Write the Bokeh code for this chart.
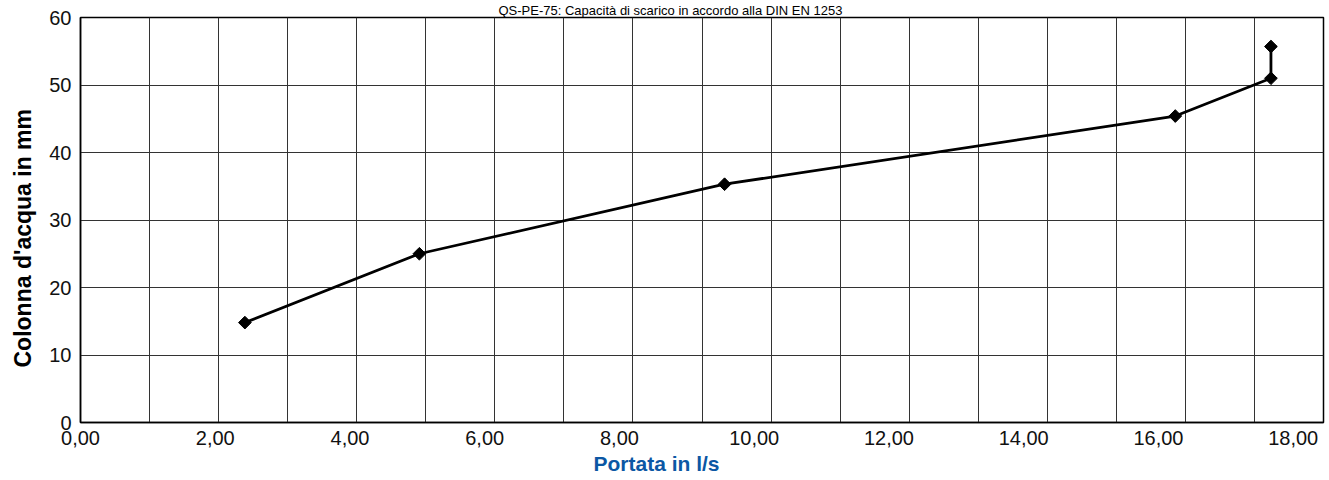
import math
from bokeh.plotting import figure
from bokeh.models import Range1d, SingleIntervalTicker, FixedTicker, Grid, Title
from bokeh.embed import file_html
from bokeh.resources import INLINE

# ---- data ----
flow_ls = [2.44, 5.03, 9.56, 16.25, 17.67, 17.67]        # Portata in l/s
head_mm = [14.8, 25.0, 35.3, 45.4, 51.0, 55.7]           # Colonna d'acqua in mm
x_ticks = [0, 2, 4, 6, 8, 10, 12, 14, 16, 18]
x_tick_labels = ["0,00", "2,00", "4,00", "6,00", "8,00", "10,00", "12,00", "14,00", "16,00", "18,00"]
y_ticks = [0, 10, 20, 30, 40, 50, 60]

title_text = "QS-PE-75: Capacità di scarico in accordo alla DIN EN 1253"
x_label = "Portata in l/s"
y_label = "Colonna d'acqua in mm"

FONT = "Liberation Sans"

p = figure(width=1329, height=480,
           x_range=Range1d(0, 18.45), y_range=Range1d(0, 60),
           output_backend="svg", toolbar_location=None,
           min_border_left=78, min_border_right=6,
           min_border_top=16, min_border_bottom=58)

p.background_fill_color = "white"
p.border_fill_color = "white"
p.outline_line_color = "black"
p.outline_line_width = 1.5

# grid: 18 equal vertical divisions, horizontal every 10 mm
p.xgrid.visible = False
p.extra_x_ranges = {"grid": Range1d(0, 18)}
vgrid = Grid(dimension=0, ticker=SingleIntervalTicker(interval=1), x_range_name="grid",
             grid_line_color="#333333", grid_line_width=1)
p.add_layout(vgrid)
p.ygrid.grid_line_color = "#333333"
p.ygrid.grid_line_width = 1

# axes
p.xaxis.ticker = FixedTicker(ticks=x_ticks)
p.xaxis.major_label_overrides = {t: l for t, l in zip(x_ticks, x_tick_labels)}
p.yaxis.ticker = FixedTicker(ticks=y_ticks)
for ax in (p.xaxis[0], p.yaxis[0]):
    ax.major_tick_in = 0
    ax.major_tick_out = 0
    ax.minor_tick_in = 0
    ax.minor_tick_out = 0
    ax.axis_line_color = "black"
    ax.axis_line_width = 1.5
    ax.major_label_text_font = FONT
    ax.major_label_text_font_size = "20px"
    ax.major_label_text_color = "#111111"
p.xaxis.major_label_standoff = 8
p.yaxis.major_label_standoff = 9

# chart title (narrow band above the frame)
tt = Title(text=title_text, align="left", offset=418, standoff=0,
           text_font=FONT, text_font_size="13px", text_font_style="normal",
           text_color="black", vertical_align="bottom")
p.add_layout(tt, "above")

# axis titles
xt = Title(text=x_label, align="left", offset=513, standoff=4,
           text_font=FONT, text_font_size="21px", text_font_style="bold",
           text_color="#0b57a4")
p.add_layout(xt, "below")
yt = Title(text=y_label, align="left", offset=55, standoff=18,
           text_font=FONT, text_font_size="23px", text_font_style="bold",
           text_color="black", vertical_align="top")
p.add_layout(yt, "left")

# series
p.line(flow_ls, head_mm, line_color="black", line_width=2.8)
p.scatter(flow_ls, head_mm, marker="square", angle=math.pi / 4, size=9,
          fill_color="black", line_color="black")

open("out.html", "w").write(file_html(p, INLINE))
